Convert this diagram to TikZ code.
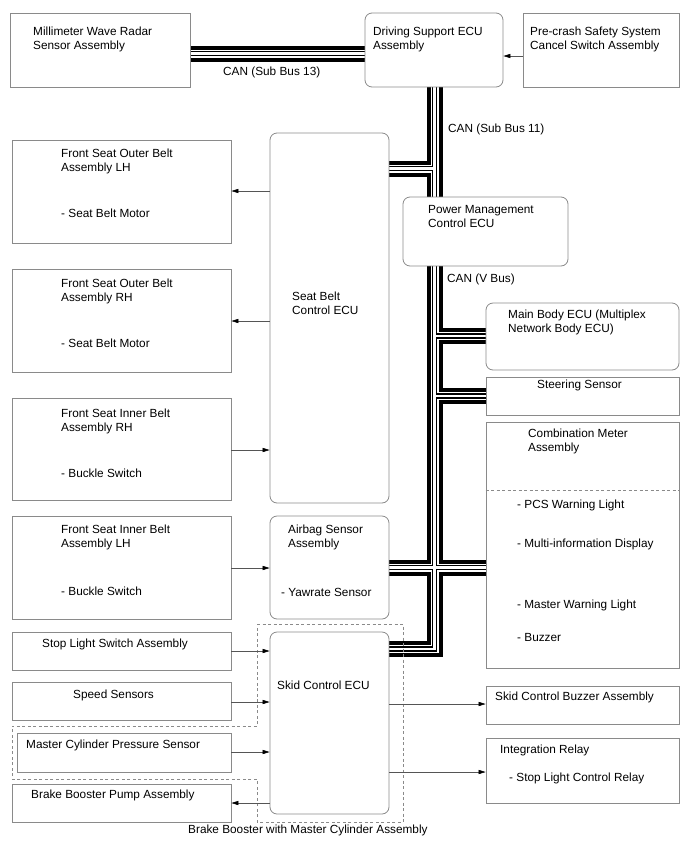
\documentclass[tikz,border=0pt]{standalone}
\usepackage{fontspec}
\setmainfont{Liberation Sans}
\usetikzlibrary{positioning, arrows.meta, fit, backgrounds}

\definecolor{boxgray}{HTML}{8A8A8A}
\definecolor{wiregray}{HTML}{555555}

\begin{document}
\begin{tikzpicture}[
  x=1pt, y=-1pt,
  every node/.style={font=\fontsize{11.8}{14}\selectfont},
  box/.style  = {draw=boxgray, line width=0.8pt, inner sep=0pt},
  ecu/.style  = {box, rounded corners=7pt},
  txt/.style  = {anchor=north west, align=left, inner sep=0pt, yshift=8.7pt},
  arr/.style  = {-{Triangle[length=7pt, width=4.2pt, color=black]}, draw=wiregray, line width=0.6pt},
  grp/.style  = {draw=boxgray, line width=0.7pt, dash pattern=on 3pt off 2.5pt},
]
  \useasboundingbox (0,0) rectangle (688,852);

  % Top row
  \node[box, fit={(10,13) (190,87)}]   (radar)  {};
  \node[ecu, fit={(365,13) (503,87)}]  (dse)    {};
  \node[box, fit={(523,13) (679,87)}]  (pcs)    {};

  % Left column
  \node[box, fit={(12,140) (231,243)}] (olh)    {};
  \node[box, fit={(12,269) (231,372)}] (orh)    {};
  \node[box, fit={(12,398) (231,500)}] (irh)    {};
  \node[box, fit={(12,516) (231,619)}] (ilh)    {};
  \node[box, fit={(12,632) (231,670)}] (stop)   {};
  \node[box, fit={(12,682) (231,720)}] (speed)  {};
  \node[box, fit={(17,733) (231,772)}] (mcps)   {};
  \node[box, fit={(12,784) (231,822)}] (pump)   {};

  % Middle column
  \node[ecu, fit={(270,133) (389,503)}] (sbecu)  {};
  \node[ecu, fit={(270,516) (389,619)}] (airbag) {};
  \node[ecu, fit={(270,632) (389,814)}] (skid)   {};
  \node[ecu, fit={(403,197) (568,266)}] (pm)     {};

  % Right column
  \node[ecu, fit={(486,303) (679,370)}] (mb)     {};
  \node[box, fit={(486,377) (679,415)}] (steer)  {};
  \node[box, fit={(486,422) (679,668)}] (combo)  {};
  \node[box, fit={(486,686) (679,724)}] (buzz)   {};
  \node[box, fit={(486,738) (679,803)}] (relay)  {};

  % Texts (placed at their first baseline)
  \node[txt] (radar-t)  at (33,35)   {Millimeter Wave Radar\\Sensor Assembly};
  \node[txt] (dse-t)    at (373,35)  {Driving Support ECU\\Assembly};
  \node[txt] (pcs-t)    at (530,35)  {Pre-crash Safety System\\Cancel Switch Assembly};
  \node[txt] (olh-t)    at (61,157)  {Front Seat Outer Belt\\Assembly LH};
  \node[txt] (olh-s)    at (61,217)  {- Seat Belt Motor};
  \node[txt] (orh-t)    at (61,287)  {Front Seat Outer Belt\\Assembly RH};
  \node[txt] (orh-s)    at (61,347)  {- Seat Belt Motor};
  \node[txt] (irh-t)    at (61,417)  {Front Seat Inner Belt\\Assembly RH};
  \node[txt] (irh-s)    at (61,477)  {- Buckle Switch};
  \node[txt] (ilh-t)    at (61,533)  {Front Seat Inner Belt\\Assembly LH};
  \node[txt] (ilh-s)    at (61,595)  {- Buckle Switch};
  \node[txt] (stop-t)   at (42,647)  {Stop Light Switch Assembly};
  \node[txt] (speed-t)  at (73,698)  {Speed Sensors};
  \node[txt] (mcps-t)   at (26,748)  {Master Cylinder Pressure Sensor};
  \node[txt] (pump-t)   at (31,798)  {Brake Booster Pump Assembly};
  \node[txt] (sbecu-t)  at (292,300) {Seat Belt\\Control ECU};
  \node[txt] (airbag-t) at (288,533) {Airbag Sensor\\Assembly};
  \node[txt] (airbag-s) at (281,597) {- Yawrate Sensor};
  \node[txt] (skid-t)   at (277,689) {Skid Control ECU};
  \node[txt] (pm-t)     at (428,214) {Power Management\\Control ECU};
  \node[txt] (mb-t)     at (508,318) {Main Body ECU (Multiplex\\Network Body ECU)};
  \node[txt] (steer-t)  at (537,388) {Steering Sensor};
  \node[txt] (combo-t)  at (528,437) {Combination Meter\\Assembly};
  \node[txt] (combo-a)  at (517,508) {- PCS Warning Light};
  \node[txt] (combo-b)  at (517,547) {- Multi-information Display};
  \node[txt] (combo-c)  at (517,608) {- Master Warning Light};
  \node[txt] (combo-d)  at (517,642) {- Buzzer};
  \node[txt] (buzz-t)   at (495,700) {Skid Control Buzzer Assembly};
  \node[txt] (relay-t)  at (500,753) {Integration Relay};
  \node[txt] (relay-s)  at (509,781) {- Stop Light Control Relay};
  \node[txt] (grp-t)    at (188,833) {Brake Booster with Master Cylinder Assembly};

  % CAN labels
  \node[txt] (can13) at (223,75)  {CAN (Sub Bus 13)};
  \node[txt] (can11) at (448,132) {CAN (Sub Bus 11)};
  \node[txt] (canv)  at (447,282) {CAN (V Bus)};

  % Combination meter divider, assembly outline
  \draw[grp] (combo.west |- 0,490) -- (combo.east |- 0,490);
  \draw[grp] (257,624) -- (403,624) -- (403,822) -- (257,822) -- (257,779)
             -- (12,779) -- (12,726) -- (257,726) -- cycle;

  % Signal lines
  \foreach \a/\b/\y in {irh/sbecu/450, ilh/airbag/568, stop/skid/651, speed/skid/702,
                        mcps/skid/752, skid/buzz/704, skid/relay/772}
     \draw[arr] (\a.east |- 0,\y) -- (\b.west |- 0,\y);
  \foreach \a/\b/\y in {pcs/dse/56, sbecu/olh/191, sbecu/orh/321, skid/pump/803}
     \draw[arr] (\a.west |- 0,\y) -- (\b.east |- 0,\y);

  % CAN bus: drawn in layers so that it looks like a cable
  \coordinate (spine) at (434.5,0);
  \foreach \n/\y in {b13/53.5, bsb/168.5, bmb/336, bst/396, bab/567.5, bsk/649}
     \coordinate (\n) at (0,\y);
  \def\busnet{(radar.east |- b13) -- (dse.west |- b13)
    (dse.south -| spine) -- (pm.north -| spine)
    (spine |- bsb) -- (sbecu.east |- bsb)
    (pm.south -| spine) -- (spine |- bsk) -- (skid.east |- bsk)
    (spine |- bmb) -- (mb.west |- bmb)
    (spine |- bst) -- (steer.west |- bst)
    (airbag.east |- bab) -- (combo.west |- bab)}
  \begin{scope}[on background layer]
    \foreach \w/\c in {16/black, 8/white, 5.4/black, 2.8/white}
       \draw[line width=\w pt, \c, line join=miter] \busnet;
  \end{scope}
\end{tikzpicture}
\end{document}
